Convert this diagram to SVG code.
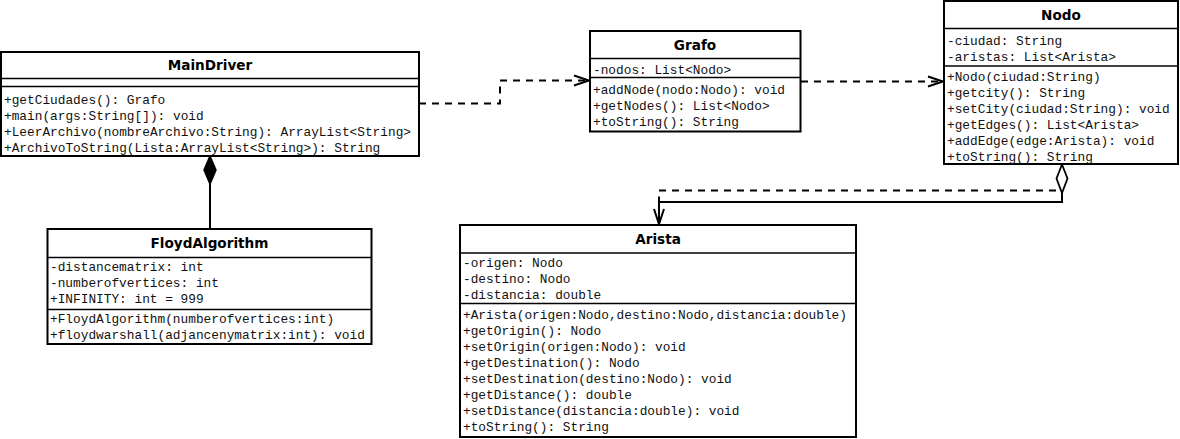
<svg xmlns="http://www.w3.org/2000/svg" width="1180" height="439" viewBox="0 0 1180 439">
<style>
.box{fill:#fff;stroke:#000;stroke-width:2}
.div{stroke:#000;stroke-width:1.6;fill:none}
.title{font-family:"DejaVu Sans",sans-serif;font-weight:bold;font-size:13.6px;text-anchor:middle;fill:#000}
.m{font-family:"Liberation Mono","Courier New",monospace;font-size:12.8px;fill:#111}
.dash{fill:none;stroke:#000;stroke-width:2;stroke-dasharray:7,6}
.solid{fill:none;stroke:#000;stroke-width:2}
</style>
<defs>
<marker id="open" markerUnits="userSpaceOnUse" markerWidth="18" markerHeight="12" refX="15" refY="5" orient="auto" overflow="visible">
<path d="M0,0 L15,5 L0,10" fill="none" stroke="#000" stroke-width="2"/>
</marker>
</defs>
<rect width="1180" height="439" fill="#fff"/>
<g id="connectors">
<path class="dash" d="M419,103.5 H500 V80.5 H589" marker-end="url(#open)"/>
<path class="dash" d="M801,81.5 H943" marker-end="url(#open)"/>
<line class="solid" x1="210" y1="184" x2="210" y2="229"/>
<path d="M210,156 L216,170 L210,184 L204,170 Z" fill="#000" stroke="#000" stroke-width="1.5"/>
<path class="solid" d="M1062,193 V202 H659 V224"/>
<path class="dash" d="M1056,190.5 H659 V224" marker-end="url(#open)"/>
<path d="M1062,164.5 L1067.5,178.5 L1062,193 L1056.5,178.5 Z" fill="#fff" stroke="#000" stroke-width="1.8"/>
</g>
<g id="MainDriver">
<rect class="box" x="1" y="52" width="418" height="104"/>
<line class="div" x1="1" y1="78.5" x2="419" y2="78.5"/>
<line class="div" x1="1" y1="86.5" x2="419" y2="86.5"/>
<text class="title" x="210" y="70">MainDriver</text>
<text class="m" x="4" y="104">+getCiudades(): Grafo</text>
<text class="m" x="4" y="120">+main(args:String[]): void</text>
<text class="m" x="4" y="136">+LeerArchivo(nombreArchivo:String): ArrayList&lt;String&gt;</text>
<text class="m" x="4" y="152">+ArchivoToString(Lista:ArrayList&lt;String&gt;): String</text>
</g>
<g id="FloydAlgorithm">
<rect class="box" x="47.5" y="229" width="324" height="115"/>
<line class="div" x1="47.5" y1="257.5" x2="371.5" y2="257.5"/>
<line class="div" x1="47.5" y1="309.5" x2="371.5" y2="309.5"/>
<text class="title" x="209.5" y="248">FloydAlgorithm</text>
<text class="m" x="50" y="271">-distancematrix: int</text>
<text class="m" x="50" y="287">-numberofvertices: int</text>
<text class="m" x="50" y="303">+INFINITY: int = 999</text>
<text class="m" x="50" y="323">+FloydAlgorithm(numberofvertices:int)</text>
<text class="m" x="50" y="339">+floydwarshall(adjancenymatrix:int): void</text>
</g>
<g id="Grafo">
<rect class="box" x="590" y="31" width="210.5" height="100.5"/>
<line class="div" x1="590" y1="58.5" x2="800.5" y2="58.5"/>
<line class="div" x1="590" y1="77.5" x2="800.5" y2="77.5"/>
<text class="title" x="695" y="50">Grafo</text>
<text class="m" x="593" y="73.5">-nodos: List&lt;Nodo&gt;</text>
<text class="m" x="593" y="93.5">+addNode(nodo:Nodo): void</text>
<text class="m" x="593" y="109.5">+getNodes(): List&lt;Nodo&gt;</text>
<text class="m" x="593" y="125.5">+toString(): String</text>
</g>
<g id="Nodo">
<rect class="box" x="944" y="1" width="234" height="163"/>
<line class="div" x1="944" y1="28.5" x2="1178" y2="28.5"/>
<line class="div" x1="944" y1="66" x2="1178" y2="66"/>
<text class="title" x="1061" y="20">Nodo</text>
<text class="m" x="947" y="45">-ciudad: String</text>
<text class="m" x="947" y="61">-aristas: List&lt;Arista&gt;</text>
<text class="m" x="947" y="81">+Nodo(ciudad:String)</text>
<text class="m" x="947" y="97">+getcity(): String</text>
<text class="m" x="947" y="113">+setCity(ciudad:String): void</text>
<text class="m" x="947" y="129">+getEdges(): List&lt;Arista&gt;</text>
<text class="m" x="947" y="145">+addEdge(edge:Arista): void</text>
<text class="m" x="947" y="161">+toString(): String</text>
</g>
<g id="Arista">
<rect class="box" x="460" y="225" width="396" height="212"/>
<line class="div" x1="460" y1="253" x2="856" y2="253"/>
<line class="div" x1="460" y1="303.5" x2="856" y2="303.5"/>
<text class="title" x="658" y="244">Arista</text>
<text class="m" x="463" y="267">-origen: Nodo</text>
<text class="m" x="463" y="283">-destino: Nodo</text>
<text class="m" x="463" y="299">-distancia: double</text>
<text class="m" x="463" y="319">+Arista(origen:Nodo,destino:Nodo,distancia:double)</text>
<text class="m" x="463" y="335">+getOrigin(): Nodo</text>
<text class="m" x="463" y="351">+setOrigin(origen:Nodo): void</text>
<text class="m" x="463" y="367">+getDestination(): Nodo</text>
<text class="m" x="463" y="383">+setDestination(destino:Nodo): void</text>
<text class="m" x="463" y="399">+getDistance(): double</text>
<text class="m" x="463" y="415">+setDistance(distancia:double): void</text>
<text class="m" x="463" y="431">+toString(): String</text>
</g>
</svg>
